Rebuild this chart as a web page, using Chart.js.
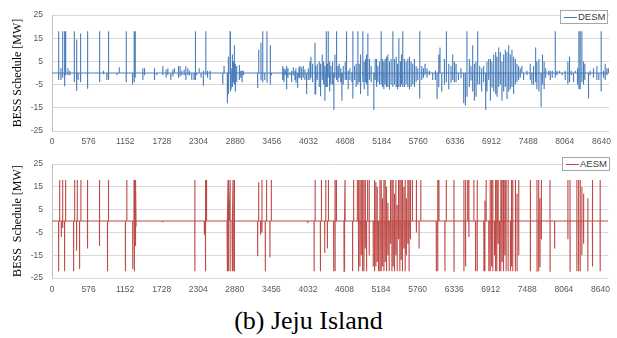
<!DOCTYPE html>
<html>
<head>
<meta charset="utf-8">
<script src="https://cdn.jsdelivr.net/npm/chart.js@4.4.0/dist/chart.umd.min.js"></script>
<style>
  html, body { margin: 0; padding: 0; background: #fff; }
  #wrap { position: relative; width: 617px; height: 338px; overflow: hidden; }
  .panel { position: absolute; left: 0; width: 617px; height: 150px; }
  .legend {
    position: absolute; background: #fff; border: 1px solid #a6a6a6;
    font: 9.5px "Liberation Sans", Arial, sans-serif; color: #404040;
    height: 12px; line-height: 12px; padding: 0 2px 0 3px; white-space: nowrap;
  }
  .legend i { display: inline-block; width: 13px; height: 0; border-top: 1.3px solid; vertical-align: middle; margin-right: 1px; }
  #caption {
    position: absolute; left: 0; width: 617px; top: 308px; text-align: center;
    font-family: "Liberation Serif", "Times New Roman", "DejaVu Serif", serif;
    font-size: 26px; color: #000; line-height: 26px;
  }
</style>
</head>
<body>
<div id="wrap">
  <div class="panel" style="top:0"><canvas id="desmChart" width="617" height="150"></canvas></div>
  <div class="panel" style="top:150px"><canvas id="aesmChart" width="617" height="150"></canvas></div>
  <div class="legend" style="left:560px; top:10px"><i style="border-color:#4A7EBB"></i>DESM</div>
  <div class="legend" style="left:562px; top:157px"><i style="border-color:#BE4B48"></i>AESM</div>
  <div id="caption">(b) Jeju Island</div>
</div>

<script>
// axis ticks (hours of the year, MW)
const hourTicks = [0, 576, 1152, 1728, 2304, 2880, 3456, 4032, 4608, 5184, 5760, 6336, 6912, 7488, 8064, 8640];
const mwTicks = [-25, -15, -5, 5, 15, 25];
const lastHour = 8760;

// DESM schedule excursions: hour, peak up, peak down (MW)
const desmHour = [
  104, 140, 167, 198, 214, 250, 280, 350, 387, 410,
  449, 559, 748, 810, 863, 889, 1020, 1057, 1167, 1266,
  1292, 1308, 1428, 1454, 1611, 1648, 1742, 1794, 1821, 1868,
  1900, 1925, 1988, 2014, 2041, 2077, 2104, 2135, 2161, 2198,
  2234, 2255, 2276, 2313, 2344, 2380, 2418, 2445, 2485, 2685,
  2705, 2757, 2773, 2800, 2815, 2836, 2852, 2867, 2883, 2904,
  2946, 2967, 2988, 3009, 3234, 3250, 3286, 3313, 3345, 3380,
  3433, 3449, 3627, 3647, 3668, 3689, 3710, 3741, 3768, 3794,
  3820, 3836, 3862, 3883, 3899, 3925, 3951, 3977, 4003, 4029,
  4055, 4071, 4097, 4135, 4150, 4170, 4202, 4223, 4249, 4270,
  4291, 4312, 4328, 4343, 4365, 4385, 4411, 4432, 4448, 4474,
  4495, 4515, 4540, 4558, 4579, 4610, 4631, 4657, 4683, 4715,
  4730, 4757, 4783, 4809, 4830, 4851, 4887, 4908, 4930, 4947,
  4966, 4992, 5018, 5060, 5081, 5102, 5123, 5149, 5175, 5196,
  5217, 5238, 5259, 5280, 5306, 5332, 5359, 5385, 5411, 5432,
  5453, 5478, 5495, 5515, 5542, 5568, 5594, 5620, 5646, 5672,
  5699, 5725, 5751, 5782, 5814, 5840, 5866, 5897, 5934, 5986,
  6028, 6054, 6081, 6101, 6128, 6170, 6201, 6238, 6274, 6300,
  6327, 6353, 6390, 6431, 6473, 6500, 6525, 6562, 6588, 6614,
  6641, 6667, 6693, 6724, 6756, 6787, 6819, 6839, 6866, 6893,
  6918, 6945, 6976, 6997, 7023, 7049, 7075, 7101, 7128, 7154,
  7180, 7206, 7232, 7258, 7285, 7311, 7337, 7363, 7389, 7415,
  7468, 7520, 7546, 7572, 7604, 7624, 7656, 7690, 7712, 7738,
  7762, 7808, 7835, 7866, 7913, 7939, 7981, 8023, 8070, 8111,
  8137, 8164, 8200, 8227, 8263, 8284, 8305, 8331, 8357, 8378,
  8436, 8462, 8514, 8567, 8598, 8635, 8672, 8698, 8724, 8748
];
const desmUp = [
  18, 2, 18, 18, 18, 2, 1, 18, 14.4, 0,
  17, 18, 18, 1, 0, 18, 0, 2.5, 18, 0,
  18, 18, 2, 2, 2, 0, 3, 1.5, 2, 0,
  1.5, 2, 3, 3, 1, 1.5, 3, 2, 1, 0,
  0, 18, 0, 2, 0, 1, 18, 1, 1, 0,
  3, 0, 7, 18, 2, 8, 5, 12, 4, 3,
  3.5, 1, 1, 1, 0, 10, 13, 18, 0, 18,
  12, 0, 3, 2, 1.5, 3, 2, 0, 1, 2.5,
  1, 2, 0, 2.5, 3, 2.5, 3, 1.5, 0, 2,
  5, 7, 4, 13, 3, 4, 5, 4, 8, 5,
  3, 18, 4, 18, 5, 3, 5, 0, 8, 18,
  3, 4, 2, 0, 3, 5, 18, 1, 2, 0,
  18, 3, 4, 18, 4, 8, 18, 5, 6, 8,
  17, 6, 3, 0, 6, 6, 3, 5, 18, 6,
  5, 6, 7, 8, 5, 6, 18, 6, 7, 4,
  15, 5, 8, 18, 6, 5, 6, 7, 5, 4,
  6, 3, 2, 18, 3, 2, 4, 2, 1, 0,
  1, 0, 8, 11, 0, 6, 18, 4, 3, 8,
  5, 4, 0, 2, 0, 0, 18, 6, 3, 12,
  4, 5, 18, 3, 2, 3, 0, 5, 6, 6,
  5, 8, 9, 7, 11, 9, 5, 8, 10, 9,
  12, 8, 10, 7, 6, 4, 3, 2, 3, 0,
  1, 4, 0, 3, 11, 5, 6, 0, 8, 5,
  2, 1, 1, 1, 18, 1, 1, 0, 1, 5,
  7, 1, 0, 1, 2, 18, 18, 18, 5, 4,
  0, 1, 2, 3, 0, 18, 1, 4, 2, 2
];
const desmDown = [
  -3, -3, -2, -5.7, -1, -1, -1, -4, -7.8, -3,
  -4, -6.8, -4, -0.5, -3, -3, -1, 0, -4, -5,
  -4, -2, -3, -1, -3, -1, -1, -2, -1, -3,
  -1.5, 0, -2, -1.5, -1, -1, -3, -1, -1, -3,
  -3, -3, -1, 0, -2, -5.5, -1, -2, -3, -5,
  0, -13, -9, -8, -7, -6, -4, -5, -8, -4,
  -3, -2, -4, -1, -6.5, 0, -3, -4, -3, -4,
  -5, -1, -3, -4, -1, -7, -2, -1, -4, -1,
  -3, -4, -6.5, -2, -2, -3, -2, -3, -9, -3,
  -3, -2, -4, -9, -5, -3, -6, -10, -3, -5,
  -12, -6, -6, -2, -8, -5, -5, -16, -2, -3,
  -4, -2, -4, -12, -5, -3, -3, -7, -3, -4,
  -11, -3, -6, -5, -4, -9, -4, -7, -4, -5,
  -10, -3, -4, -16, -3, -6, -4, -5, -5, -6,
  -7, -5, -6, -6, -7, -5, -6, -5, -6, -7,
  -6, -6, -5, -6, -6, -5, -6, -7, -6, -5,
  -6, -4, -3, -11, -3, -2, -1, -2, -1, -3,
  -3, -11, -6, 0, -8, -5, -4, -7, -4, -3,
  -4, -4, -3, -2, -13, -14, -10, -6, -3, -8,
  -12, -10, -5, -5, -8, -4, -16, -8, -3, -12,
  -6, -8, -9, -10, -6, -5, -12, -8, -6, -11,
  -8, -7, -6, -9, -5, -4, -3, -2, 0, -3,
  -1, -3, -5, -5, -4, -7, -8, -14.5, -5, -7,
  -2, -1, -3, -2, -2, -1, 0, -1, -3, -5,
  -4, -1, -4, 0, -5, -7, -7, -4, -5, -3,
  -11, -1, -2, -3, -3, -8, -2, -3, -1, 0
];

// AESM schedule excursions
const aesmHour = [
  104, 120, 146, 167, 198, 214, 340, 356, 387, 397,
  434, 455, 559, 748, 874, 889, 1156, 1178, 1271, 1292,
  1308, 1323, 1742, 2250, 2400, 2418, 2434, 2757, 2773, 2789,
  2805, 2836, 2852, 2873, 3239, 3255, 3286, 3307, 3360, 3380,
  3433, 3454, 4029, 4129, 4145, 4228, 4244, 4296, 4312, 4338,
  4354, 4437, 4459, 4480, 4600, 4616, 4735, 4751, 4809, 4829,
  4851, 4872, 4892, 4914, 4935, 4955, 4971, 4997, 5060, 5081,
  5102, 5123, 5143, 5165, 5186, 5206, 5228, 5249, 5269, 5291,
  5311, 5332, 5354, 5374, 5395, 5416, 5437, 5458, 5479, 5500,
  5520, 5542, 5563, 5583, 5605, 5625, 5646, 5677, 5740, 5782,
  5809, 6054, 6076, 6096, 6190, 6211, 6332, 6489, 6515, 6547,
  6567, 6646, 6672, 6698, 6803, 6819, 6839, 6881, 6902, 6924,
  6944, 6971, 6987, 7007, 7027, 7049, 7070, 7090, 7112, 7133,
  7153, 7185, 7222, 7238, 7258, 7300, 7326, 7352, 7536, 7640,
  7666, 7687, 7709, 7845, 7918, 8127, 8160, 8268, 8295, 8321,
  8347, 8374, 8441, 8514, 8635
];
const aesmUp = [
  0, 18, 0, 18, 0, 18, 0, 18, 0, 18,
  0, 18, 18, 18, 0, 18, 0, 18, 0, 18,
  18, 18, 0, 18, 0, 18, 18, 0, 18, 9,
  18, 0, 18, 18, 0, 17, 0, 18, 0, 18,
  0, 18, 0, 0, 18, 0, 18, 0, 18, 0,
  18, 0, 18, 18, 0, 18, 0, 18, 18, 18,
  18, 18, 18, 18, 18, 0, 18, 18, 0, 18,
  17, 15, 0, 18, 18, 10, 18, 18, 15, 8,
  0, 18, 18, 18, 12, 18, 7, 18, 18, 18,
  18, 15, 18, 10, 18, 18, 18, 18, 18, 0,
  18, 0, 18, 18, 0, 18, 18, 18, 18, 18,
  18, 18, 0, 18, 0, 9, 18, 0, 18, 18,
  18, 0, 18, 18, 18, 0, 18, 18, 18, 18,
  18, 18, 0, 18, 18, 18, 12, 18, 18, 18,
  18, 10, 18, 18, 0, 18, 18, 18, 18, 18,
  15, 12, 10, 18, 18
];
const aesmDown = [
  -22, 0, -7, -3, -22, 0, -22, 0, -13, 0,
  -21, 0, -12, -11, -22, 0, -22, 0, -21, -22,
  -11, -2, -0.5, -22, -6, -22, 0, -22, -22, 0,
  -22, -22, -22, -22, -15.5, 0, -6, -5, -22, 0,
  -16, 0, -1, -22, 0, -22, 0, -14, 0, -12,
  0, -22, -22, 0, -22, 0, -22, 0, 0, -22,
  -20, -15, -22, -22, -12, -22, 0, -15, -20, -22,
  -20, -18, -22, -22, -22, -20, -22, -18, -22, -15,
  -22, -10, -22, -20, -22, -15, -22, -8, -22, -17,
  -22, -12, -22, -15, -10, -22, -8, 0, -5, -12,
  0, -22, -22, 0, -22, 0, -22, -22, -20, 0,
  -7, 0, -22, -22, -22, -22, 0, -22, -22, -20,
  -22, -15, -22, -22, -10, -22, -22, -18, -22, -15,
  -22, -22, -22, -20, -22, -22, -22, -15, -22, -22,
  -22, -20, -8, -22, -12, -8, -22, -22, -22, -22,
  -15, -10, -22, -20, -22
];

// each excursion: leave the zero baseline, swing up, swing down, come back
function buildSeries(hours, up, down) {
  const pts = [{ x: 0, y: 0 }];
  hours.forEach((h, i) => {
    pts.push({ x: h - 1, y: 0 }, { x: h, y: up[i] }, { x: h + 1, y: down[i] }, { x: h + 2, y: 0 });
  });
  pts.push({ x: lastHour, y: 0 });
  return pts;
}

const tickFont = { family: "'Liberation Sans', Arial, sans-serif", size: 8.5 };

function makeChart(id, label, data, color, yTitle, pad, xHeight, labelPad) {
  return new Chart(document.getElementById(id), {
    type: "line",
    data: {
      datasets: [{
        label,
        data,
        borderColor: color,
        borderWidth: 1.1,
        pointRadius: 0,
        tension: 0,
        fill: false
      }]
    },
    options: {
      responsive: false,
      animation: false,
      events: [],
      layout: { padding: { left: 11, right: 7, top: pad, bottom: 0 } },
      plugins: { legend: { display: false }, tooltip: { enabled: false } },
      scales: {
        x: {
          type: "linear",
          min: 0,
          max: lastHour,
          afterBuildTicks: (s) => { s.ticks = hourTicks.map((v) => ({ value: v })); },
          afterFit: (s) => { s.height = xHeight; },
          grid: { display: false, drawTicks: false },
          border: { display: false },
          ticks: {
            autoSkip: false, maxRotation: 0, padding: labelPad, color: "#595959",
            font: tickFont,
            callback: (v) => String(v)
          }
        },
        y: {
          min: -25,
          max: 25,
          afterBuildTicks: (s) => { s.ticks = mwTicks.map((v) => ({ value: v })); },
          afterFit: (s) => { s.width = 41; },
          grid: { color: "#d9d9d9", lineWidth: 1, drawTicks: false },
          border: { display: true, color: "#bfbfbf" },
          ticks: {
            padding: 9, color: "#595959",
            font: tickFont,
            callback: (v) => String(v)
          },
          title: {
            display: true, text: yTitle, color: "#000",
            padding: { top: 0, bottom: 0 },
            font: { family: "'Liberation Serif', 'Times New Roman', serif", size: 12 }
          }
        }
      }
    }
  });
}

makeChart("desmChart", "DESM", buildSeries(desmHour, desmUp, desmDown), "#4A7EBB",
  "BESS Schedule [MW]", 15, 19, 6);
makeChart("aesmChart", "AESM", buildSeries(aesmHour, aesmUp, aesmDown), "#BE4B48",
  "BESS  Schedule [MW]", 13, 22, 7);
</script>
</body>
</html>
